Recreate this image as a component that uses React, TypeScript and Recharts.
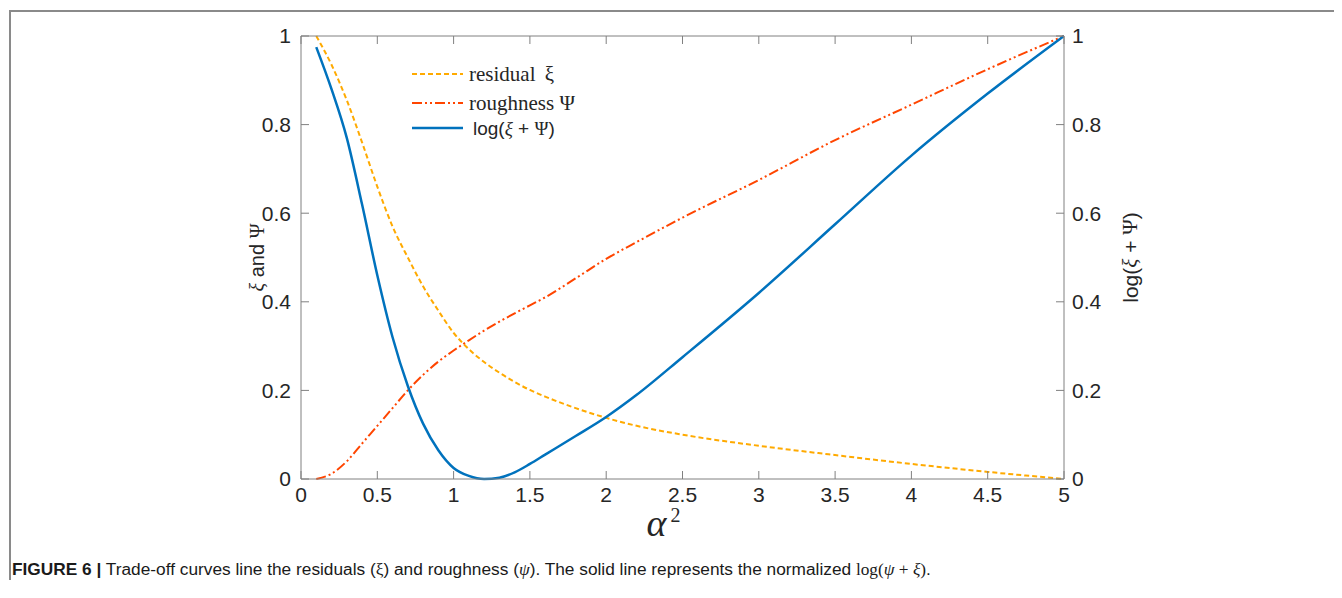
import { Label, Legend, Line, LineChart, XAxis, YAxis } from 'recharts';

// values
const alphaSq = [0.1, 0.2, 0.3, 0.4, 0.5, 0.6, 0.7, 0.8, 0.9, 1.0, 1.1, 1.2, 1.3, 1.4, 1.5, 1.6, 1.8, 2.0, 2.2, 2.5, 3.0, 3.5, 4.0, 4.5, 5.0];
const residual = [1.0, 0.935, 0.855, 0.76, 0.66, 0.57, 0.5, 0.435, 0.38, 0.33, 0.293, 0.264, 0.24, 0.219, 0.201, 0.186, 0.16, 0.138, 0.12, 0.1, 0.075, 0.054, 0.034, 0.016, 0.0];
const roughness = [0.0, 0.012, 0.04, 0.08, 0.12, 0.16, 0.2, 0.235, 0.265, 0.29, 0.313, 0.335, 0.355, 0.374, 0.392, 0.41, 0.453, 0.497, 0.535, 0.59, 0.675, 0.765, 0.845, 0.925, 1.0];
const logSum = [0.975, 0.88, 0.77, 0.62, 0.46, 0.32, 0.21, 0.125, 0.065, 0.025, 0.007, 0.0, 0.003, 0.015, 0.034, 0.055, 0.097, 0.14, 0.19, 0.275, 0.42, 0.575, 0.73, 0.87, 1.0];

const xTicks = [0, 0.5, 1, 1.5, 2, 2.5, 3, 3.5, 4, 4.5, 5];
const yTicks = [0, 0.2, 0.4, 0.6, 0.8, 1];

const rows = alphaSq.map((x, i) => ({
  x,
  residual: residual[i],
  roughness: roughness[i],
  logSum: logSum[i],
}));

const axisGray = '#808080';
const textDark = '#262626';
const sans = "'Liberation Sans', Arial, Helvetica, sans-serif";
const serif = "'Liberation Serif', 'Times New Roman', serif";
const tickFont = { fill: textDark, fontSize: 21, fontFamily: sans };

const cResidual = '#FFAA00';
const cRough = '#FF4500';
const cLog = '#0072BD';

const LeftTitle = ({ viewBox }: any) => {
  const cx = viewBox.x + 16;
  const cy = viewBox.y + viewBox.height / 2;
  return (
    <text
      transform={`translate(${cx},${cy}) rotate(-90)`}
      textAnchor="middle"
      dominantBaseline="central"
      fill={textDark}
      fontSize={20}
      fontFamily={sans}
    >
      <tspan fontFamily={serif} fontStyle="italic">ξ</tspan> and <tspan fontFamily={serif}>Ψ</tspan>
    </text>
  );
};

const RightTitle = ({ viewBox }: any) => {
  const cx = viewBox.x + 66;
  const cy = viewBox.y + viewBox.height / 2;
  return (
    <text
      transform={`translate(${cx},${cy}) rotate(-90)`}
      textAnchor="middle"
      dominantBaseline="central"
      fill={textDark}
      fontSize={21}
      fontFamily={sans}
    >
      log(<tspan fontFamily={serif} fontStyle="italic">ξ</tspan> + <tspan fontFamily={serif}>Ψ</tspan>)
    </text>
  );
};

const BottomTitle = ({ viewBox }: any) => {
  const cx = viewBox.x + viewBox.width / 2 - 19;
  const y = viewBox.y + 57;
  return (
    <text x={cx} y={y} textAnchor="middle" fill={textDark} fontFamily={serif}>
      <tspan fontSize={38} fontStyle="italic">α</tspan>
      <tspan fontSize={20} dx={4} dy={-14}>2</tspan>
    </text>
  );
};

const LegendBox = () => (
  <svg width={230} height={85} style={{ display: 'block' }}>
    <line x1={4} x2={55} y1={16} y2={16} stroke={cResidual} strokeWidth={2} strokeDasharray="5 3" />
    <text x={61} y={23} fontSize={21} fontFamily={serif} fill={textDark}>
      residual <tspan dx={4}>ξ</tspan>
    </text>
    <line x1={4} x2={55} y1={45} y2={45} stroke={cRough} strokeWidth={2} strokeDasharray="10 3 2 3 2 3" />
    <text x={61} y={52} fontSize={21} fontFamily={serif} fill={textDark}>
      roughness <tspan>Ψ</tspan>
    </text>
    <line x1={4} x2={55} y1={70} y2={70} stroke={cLog} strokeWidth={2.5} />
    <text x={65} y={77} fontSize={19} fontFamily={sans} fill={textDark}>
      log(<tspan fontFamily={serif} fontStyle="italic">ξ</tspan> + <tspan fontFamily={serif}>Ψ</tspan>)
    </text>
  </svg>
);

export default function App() {
  return (
    <div style={{ position: 'relative', width: 1326, height: 580, fontFamily: sans }}>
      <div
        style={{
          position: 'absolute',
          left: 1,
          top: 2,
          width: 1333,
          height: 570,
          borderTop: '2px solid #8a8a8a',
          borderLeft: '2px solid #8a8a8a',
          boxSizing: 'border-box',
        }}
      />
      <div style={{ position: 'absolute', left: 0, top: 0 }}>
        <LineChart width={1326} height={560} data={rows} margin={{ top: 0, right: 210, bottom: 59, left: 233 }}>
          <XAxis
            xAxisId="b"
            dataKey="x"
            type="number"
            domain={[0, 5]}
            ticks={xTicks}
            height={30}
            stroke={axisGray}
            tickSize={-8}
            tickMargin={16}
            tick={tickFont}
            interval={0}
            allowDataOverflow
          >
            <Label content={BottomTitle} />
          </XAxis>
          <XAxis
            xAxisId="t"
            orientation="top"
            dataKey="x"
            type="number"
            domain={[0, 5]}
            ticks={xTicks}
            height={28}
            stroke={axisGray}
            tickSize={-8}
            tick={{ fill: 'none', fontSize: 1 }}
            interval={0}
            allowDataOverflow
          />
          <YAxis
            yAxisId="l"
            type="number"
            domain={[0, 1]}
            ticks={yTicks}
            width={60}
            stroke={axisGray}
            tickSize={-8}
            tickMargin={18}
            tick={tickFont}
            interval={0}
          >
            <Label content={LeftTitle} />
          </YAxis>
          <YAxis
            yAxisId="r"
            orientation="right"
            type="number"
            domain={[0, 1]}
            ticks={yTicks}
            width={60}
            stroke={axisGray}
            tickSize={-8}
            tickMargin={16}
            tick={tickFont}
            interval={0}
          >
            <Label content={RightTitle} />
          </YAxis>
          <Legend
            layout="horizontal"
            verticalAlign="middle"
            align="center"
            content={LegendBox}
            wrapperStyle={{ left: 400, top: 50, width: 230 }}
          />
          <Line
            xAxisId="b"
            yAxisId="l"
            dataKey="residual"
            type="monotone"
            stroke={cResidual}
            strokeWidth={2}
            strokeDasharray="5 3"
            dot={false}
            isAnimationActive={false}
          />
          <Line
            xAxisId="b"
            yAxisId="l"
            dataKey="roughness"
            type="monotone"
            stroke={cRough}
            strokeWidth={2}
            strokeDasharray="10 3 2 3 2 3"
            dot={false}
            isAnimationActive={false}
          />
          <Line
            xAxisId="b"
            yAxisId="r"
            dataKey="logSum"
            type="monotone"
            stroke={cLog}
            strokeWidth={2.5}
            dot={false}
            isAnimationActive={false}
          />
        </LineChart>
      </div>
      <div
        style={{
          position: 'absolute',
          left: 4,
          top: 551,
          fontSize: 17.3,
          color: '#1a1a1a',
          whiteSpace: 'nowrap',
          fontFamily: sans,
        }}
      >
        <b>FIGURE 6 |</b> Trade-off curves line the residuals (<span style={{ fontFamily: serif }}>ξ</span>) and roughness
        (<span style={{ fontFamily: serif, fontStyle: 'italic' }}>ψ</span>). The solid line represents the normalized{' '}
        <span style={{ fontFamily: serif }}>
          log(<i>ψ</i> + <i>ξ</i>)
        </span>
        .
      </div>
    </div>
  );
}
